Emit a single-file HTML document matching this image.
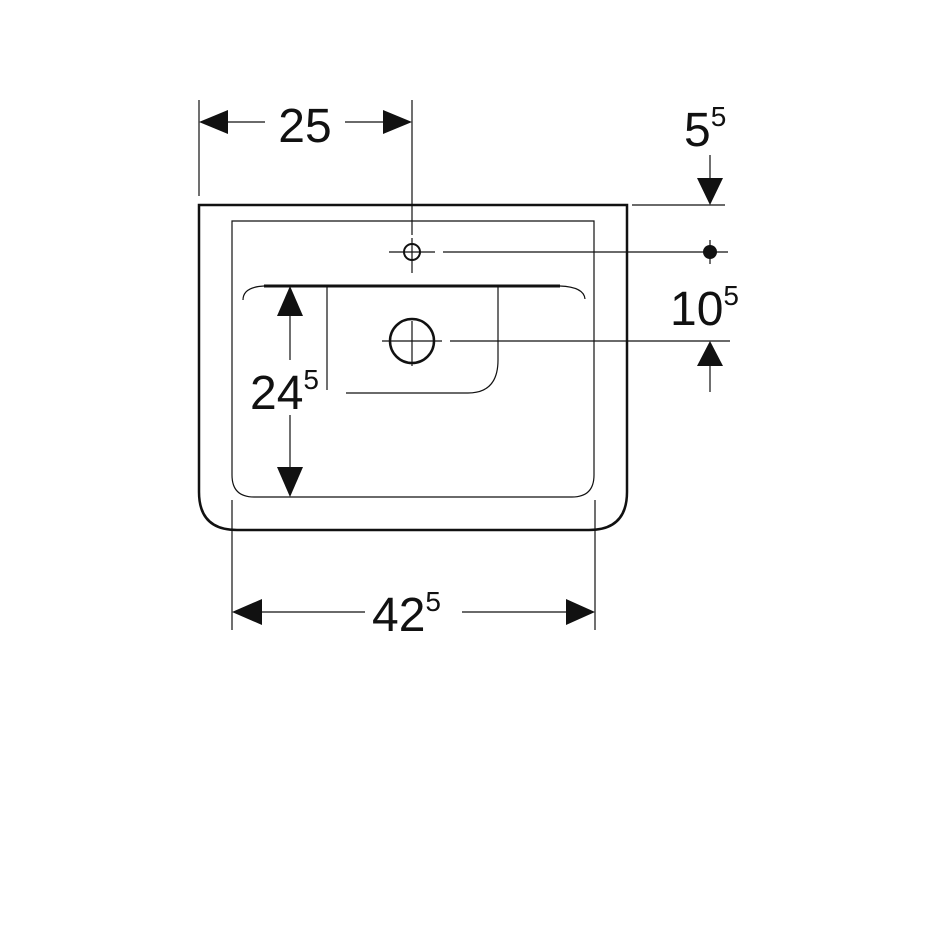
<!DOCTYPE html>
<html><head><style>
html,body{margin:0;padding:0;background:#fff;}
svg{display:block;}
text{font-family:"Liberation Sans",Arial,sans-serif;fill:#111;}
</style></head><body>
<svg width="950" height="950" viewBox="0 0 950 950" xmlns="http://www.w3.org/2000/svg">
<g fill="none" stroke="#111">
<path d="M199,205 H627 V492 Q627,530 589,530 H237 Q199,530 199,492 Z" stroke-width="2.5"/>
<path d="M232,221 H594 V475 Q594,497 572,497 H254 Q232,497 232,475 Z" stroke-width="1.2"/>
<path d="M264,286 H560" stroke-width="3"/>
<path d="M243,300 Q243,287 264,286" stroke-width="1.2"/>
<path d="M560,286 Q584,287 585,299" stroke-width="1.2"/>
<path d="M327,286 V390" stroke-width="1.2"/>
<path d="M498,286 V360 Q498,393 468,393 H346" stroke-width="1.2"/>
<circle cx="412" cy="252" r="8" stroke-width="2"/>
<path d="M389,252 H435 M412,238 V273" stroke-width="1.2"/>
<path d="M412,100 V235" stroke-width="1.2"/>
<path d="M443,252 H728" stroke-width="1.2"/>
<path d="M710,240 V264" stroke-width="1.2"/>
<circle cx="412" cy="341" r="22" stroke-width="2.5"/>
<path d="M382,341 H442 M412,321 V366" stroke-width="1.2"/>
<path d="M450,341 H730" stroke-width="1.2"/>
<path d="M199,100 V196" stroke-width="1.2"/>
<path d="M228,122 H265 M345,122 H383" stroke-width="1.2"/>
<path d="M632,205 H725" stroke-width="1.2"/>
<path d="M710,155 V180" stroke-width="1.2"/>
<path d="M710,365 V392" stroke-width="1.2"/>
<path d="M290,315 V360 M290,415 V470" stroke-width="1.2"/>
<path d="M232,500 V630 M595,500 V630" stroke-width="1.2"/>
<path d="M262,612 H365 M462,612 H566" stroke-width="1.2"/>
</g>
<g fill="#111">
<circle cx="710" cy="252" r="7"/>
<polygon points="199,122 228,110 228,134"/>
<polygon points="412,122 383,110 383,134"/>
<polygon points="710,205 697,178 723,178"/>
<polygon points="710,341 697,366 723,366"/>
<polygon points="290,286 277,316 303,316"/>
<polygon points="290,497 277,467 303,467"/>
<polygon points="232,612 262,599 262,625"/>
<polygon points="595,612 566,599 566,625"/>
</g>
<text x="305" y="142" font-size="48" text-anchor="middle">25</text>
<text x="684" y="146" font-size="48">5<tspan font-size="28" dy="-20">5</tspan></text>
<text x="670" y="325" font-size="48">10<tspan font-size="28" dy="-20">5</tspan></text>
<text x="250" y="409" font-size="48">24<tspan font-size="28" dy="-20">5</tspan></text>
<text x="372" y="631" font-size="48">42<tspan font-size="28" dy="-20">5</tspan></text>
</svg>
</body></html>
